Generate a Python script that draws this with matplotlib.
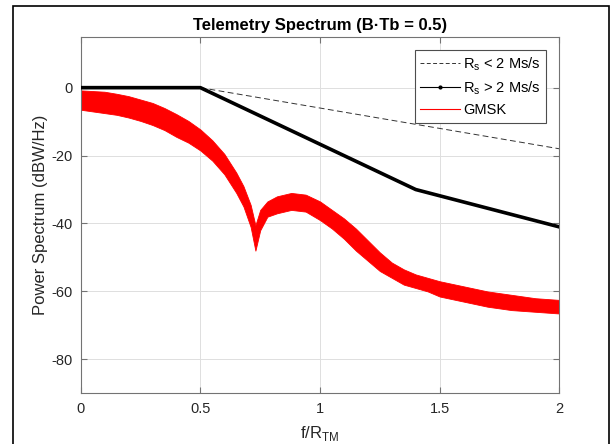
import matplotlib
matplotlib.use("Agg")
import matplotlib.pyplot as plt
from matplotlib.lines import Line2D
from matplotlib.patches import Rectangle

plt.rcParams["font.family"] = ["Liberation Sans", "DejaVu Sans"]
plt.rcParams["axes.unicode_minus"] = False

# spectral masks
maskLowF = [0.5, 2.0]
maskLowP = [0.0, -18.0]
maskHighF = [0.0, 0.5, 1.4, 2.0]
maskHighP = [0.0, 0.0, -30.0, -41.0]

gmskF = [0.0, 0.05, 0.1, 0.15, 0.2, 0.25, 0.3, 0.35, 0.4, 0.45, 0.5, 0.55,
         0.6, 0.65, 0.68, 0.71, 0.73, 0.75, 0.78, 0.82, 0.88, 0.94, 1.0,
         1.05, 1.1, 1.15, 1.2, 1.25, 1.3, 1.35, 1.4, 1.45, 1.5, 1.6, 1.7,
         1.8, 1.9, 2.0]
gmskTop = [-0.8, -1.0, -1.2, -1.8, -2.5, -3.5, -4.5, -6.0, -7.8, -9.8, -12.3,
           -15.5, -19.5, -25.0, -29.0, -34.5, -40.5, -36.0, -33.5, -32.0,
           -31.0, -31.5, -33.5, -36.0, -38.5, -41.5, -45.0, -48.5, -51.5,
           -53.5, -55.0, -56.0, -57.0, -58.5, -60.0, -61.0, -62.0, -62.5]
gmskBot = [-6.5, -7.0, -7.5, -8.0, -8.8, -9.8, -11.0, -12.5, -14.5, -16.2,
           -18.5, -21.5, -25.5, -31.0, -35.0, -41.0, -48.0, -42.0, -38.0,
           -37.0, -36.0, -36.5, -39.0, -41.5, -44.5, -48.0, -51.0, -54.0,
           -56.0, -58.0, -59.0, -60.0, -61.5, -63.0, -64.5, -65.5, -66.0,
           -66.5]

xTicks = [0, 0.5, 1, 1.5, 2]
yTicks = [-80, -60, -40, -20, 0]

fig = plt.figure(figsize=(6.13, 4.44), dpi=100)
ax = fig.add_axes([0.1317, 0.1142, 0.7807, 0.8031])

ax.fill_between(gmskF, gmskTop, gmskBot, color="red", linewidth=0.6, zorder=2)
ax.plot(maskLowF, maskLowP, color="0.2", linewidth=0.7, dashes=(6, 3.5), zorder=3)
ax.plot(maskHighF, maskHighP, color="black", linewidth=2.6, zorder=4)

ax.set_xlim(0, 2)
ax.set_ylim(-90, 15)
ax.set_xticks(xTicks)
ax.set_xticklabels(["0", "0.5", "1", "1.5", "2"])
ax.set_yticks(yTicks)
ax.grid(True, color="0.87", linewidth=0.7)
ax.set_axisbelow(True)
for s in ax.spines.values():
    s.set_color("0.45")
    s.set_linewidth(0.8)
ax.tick_params(direction="in", length=4, colors="0.45", labelcolor="0.15",
               labelsize=10.5, top=True, right=True, pad=6)

ax.set_title("Telemetry Spectrum (B\u00b7Tb = 0.5)", fontsize=12, fontweight="bold", pad=5)
ax.set_xlabel("f/R$_{\\mathregular{TM}}$", fontsize=12, color="0.15", labelpad=6)
ax.set_ylabel("Power Spectrum (dBW/Hz)", fontsize=12, color="0.15", labelpad=2)

handles = [
    Line2D([], [], color="0.2", linewidth=0.7, dashes=(4, 2.5)),
    Line2D([], [], color="black", linewidth=0.8, marker=".", markersize=4),
    Line2D([], [], color="red", linewidth=0.8),
]
labels = ["R$_{\\mathregular{s}}$ < 2 Ms/s", "R$_{\\mathregular{s}}$ > 2 Ms/s", "GMSK"]
leg = ax.legend(handles, labels, loc="upper right", fontsize=10.5, handlelength=2.7,
                handletextpad=0.25, borderaxespad=0.9, borderpad=0.35,
                fancybox=False, framealpha=1, labelspacing=0.45, markerscale=1)
leg.get_frame().set_edgecolor("0.3")
leg.get_frame().set_linewidth(0.8)

# outer frame of the figure window
fig.add_artist(Rectangle((13 / 613, -0.05), (609 - 13) / 613, 1.05 - 6.5 / 444,
                         transform=fig.transFigure, fill=False,
                         edgecolor="black", linewidth=1.2))

plt.savefig("out.png", dpi=100)
